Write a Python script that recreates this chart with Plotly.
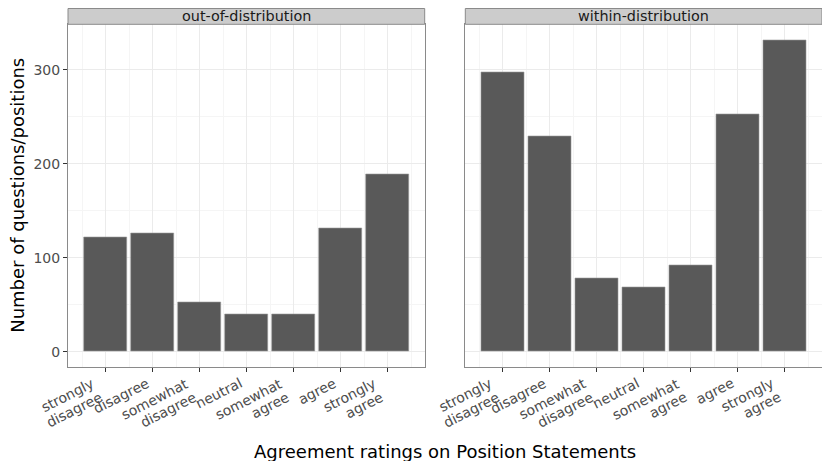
import math
import plotly.graph_objects as go

categories = ["strongly\ndisagree", "disagree", "somewhat\ndisagree", "neutral",
              "somewhat\nagree", "agree", "strongly\nagree"]
panels = ["out-of-distribution", "within-distribution"]
out_values = [122, 126, 53, 40, 40, 131, 189]
within_values = [297, 229, 78, 69, 92, 253, 331]
y_ticks = [0, 100, 200, 300]
y_minor = [50, 150, 250]

# page body has an 8px margin; the figure is sized so it fits the 830x469 window
OFF = 8
W, H = 830 - 2 * OFF, 469 - 2 * OFF
FONT = "DejaVu Sans"
BAR = "#595959"

px = lambda v: (v - OFF) / W
py = lambda v: 1 - (v - OFF) / H

x_idx = list(range(len(categories)))
x_minor = [i - 0.5 for i in range(len(categories) + 1)]

fig = go.Figure()
for k, vals in enumerate([out_values, within_values]):
    sfx = "" if k == 0 else str(k + 1)
    fig.add_trace(go.Bar(x=x_idx, y=vals, width=0.9, marker_color=BAR,
                         marker_line_color="#9a9a9a", marker_line_width=0.6,
                         xaxis="x" + sfx, yaxis="y" + sfx, showlegend=False))

left = (68, 424.7)
right = (465.3, 822)
top, bottom = 24.3, 367.3
strip_top = 8.5

xcommon = dict(range=[-0.8, 6.79], tickmode="array", tickvals=x_idx,
               ticktext=[""] * len(x_idx),
               ticks="outside", ticklen=4, tickcolor="#333333", automargin=False,
               showgrid=True, gridcolor="#ebebeb", gridwidth=1,
               minor=dict(tickmode="array", tickvals=x_minor, showgrid=True,
                          gridcolor="#f5f5f5", gridwidth=0.8, ticks=""),
               showline=True, mirror=True, linecolor="#8a8a8a", linewidth=1,
               zeroline=False, fixedrange=True)
ycommon = dict(range=[-16.6, 348.3], tickmode="array", tickvals=y_ticks, automargin=False,
               showgrid=True, gridcolor="#ebebeb", gridwidth=1,
               minor=dict(tickmode="array", tickvals=y_minor, showgrid=True,
                          gridcolor="#f5f5f5", gridwidth=0.8, ticks=""),
               showline=True, mirror=True, linecolor="#8a8a8a", linewidth=1,
               zeroline=False, domain=[py(bottom), py(top)])

fig.update_layout(
    width=W, height=H, margin=dict(l=0, r=0, t=0, b=0, autoexpand=False),
    paper_bgcolor="white", plot_bgcolor="white",
    font=dict(family=FONT),
    bargap=0,
    xaxis=dict(domain=[px(left[0]), px(left[1])], anchor="y", **xcommon),
    xaxis2=dict(domain=[px(right[0]), px(right[1])], anchor="y2", **xcommon),
    yaxis=dict(anchor="x", ticks="outside", ticklen=4, tickcolor="#333333",
               tickfont=dict(family=FONT, size=14, color="#4d4d4d"), **ycommon),
    yaxis2=dict(anchor="x2", showticklabels=False, ticks="", **ycommon),
)

shapes = []
annotations = []
for (x0, x1), name in zip([left, right], panels):
    shapes.append(dict(type="rect", xref="paper", yref="paper",
                       x0=px(x0), x1=px(x1), y0=py(top), y1=py(strip_top),
                       fillcolor="#cccccc", line=dict(color="#8a8a8a", width=1)))
    annotations.append(dict(xref="paper", yref="paper", x=px((x0 + x1) / 2),
                            y=py((top + 7.3) / 2), text=name, showarrow=False,
                            xanchor="center", yanchor="middle",
                            font=dict(family=FONT, size=14.4, color="#1a1a1a")))

# rotated category labels, right-aligned lines, tighter line spacing than plotly's default
ANG = 27
LS = 15.5
sa, ca = math.sin(math.radians(ANG)), math.cos(math.radians(ANG))
for xr in ["x", "x2"]:
    for i, lab in zip(x_idx, categories):
        lines = lab.split("\n")
        n = len(lines)
        for j, line in enumerate(lines):
            k_below = n - 1 - j
            annotations.append(dict(xref=xr, yref="paper", x=i, y=py(bottom + 5),
                                    text=line, showarrow=False, textangle=-ANG,
                                    xanchor="right", yanchor="top",
                                    xshift=1 - k_below * LS * sa,
                                    yshift=-j * LS * ca,
                                    font=dict(family=FONT, size=14, color="#4d4d4d")))

annotations.append(dict(xref="paper", yref="paper", x=px((left[0] + right[1]) / 2),
                        y=py(451), text="Agreement ratings on Position Statements",
                        showarrow=False, xanchor="center", yanchor="middle",
                        font=dict(family=FONT, size=18, color="black")))
annotations.append(dict(xref="paper", yref="paper", x=px(18), y=py((top + bottom) / 2),
                        text="Number of questions/positions", textangle=-90,
                        showarrow=False, xanchor="center", yanchor="middle",
                        font=dict(family=FONT, size=18, color="black")))
fig.update_layout(shapes=shapes, annotations=annotations)

fig.write_html("out.html")
